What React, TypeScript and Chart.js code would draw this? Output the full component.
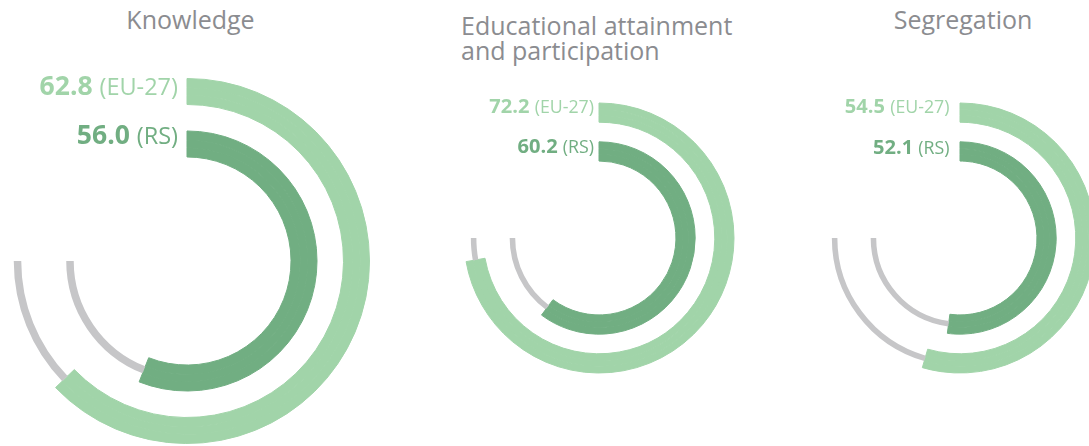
import React, { useEffect, useRef } from "react";
import { Chart, registerables } from "chart.js";

Chart.register(...registerables);

// ---- data ----
const titles = ["Knowledge", "Educational attainment\nand participation", "Segregation"];
const euValues = [62.8, 72.2, 54.5];
const rsValues = [56.0, 60.2, 52.1];
const euTag = "(EU-27)";
const rsTag = "(RS)";
const fullScale = 100; // a full circle
const trackEnd = 75; // grey track runs to three quarters of the circle

// ---- styles ----
const LIGHT = "#a1d4a9";
const DARK = "#71ae82";
const TRACK = "#c6c6c8";
const TITLE = "#8b8c90";
const CLEAR = "rgba(0,0,0,0)";
const FONT = "'Open Sans', 'Noto Sans', sans-serif";

// layout of each gauge (page coordinates)
const geometry = [
  { cx: 187, cy: 261, r: 182.5, scale: 1, euBase: 95.7, rsBase: 145, textRight: 178 },
  { cx: 599, cy: 238, r: 135, scale: 0.757, euBase: 114, rsBase: 154, textRight: 594 },
  { cx: 960, cy: 238, r: 135, scale: 0.757, euBase: 114, rsBase: 155, textRight: 949.5 },
];
const titleLayout = [
  { left: 40.5, width: 300, top: 7.05, align: "center" },
  { left: 461, width: 330, top: 13.05, align: "left" },
  { left: 813, width: 300, top: 7.05, align: "center" },
];

function band(value: number, color: string, withTrack: boolean, weight: number) {
  return withTrack
    ? {
        data: [value, trackEnd - value, fullScale - trackEnd],
        backgroundColor: [color, TRACK, CLEAR],
        borderColor: [color, CLEAR, CLEAR],
        borderWidth: 1,
        weight,
      }
    : {
        data: [value, fullScale - value],
        backgroundColor: [color, CLEAR],
        borderColor: [color, CLEAR],
        borderWidth: 1,
        weight,
      };
}

function Gauge({ idx }: { idx: number }) {
  const ref = useRef<HTMLCanvasElement | null>(null);
  const g = geometry[idx];
  const side = 2 * Math.ceil(g.r + 3);
  useEffect(() => {
    if (!ref.current) return;
    const eu = euValues[idx];
    const rs = rsValues[idx];
    const chart = new Chart(ref.current, {
      type: "doughnut",
      data: {
        labels: ["value", "track", "rest"],
        datasets: [
          band(eu, LIGHT, false, 9.25),
          band(eu, LIGHT, true, 7.5),
          band(eu, LIGHT, false, 9.25),
          { data: [fullScale], backgroundColor: [CLEAR], borderWidth: 0, weight: 26.5 },
          band(rs, DARK, false, 9.25),
          band(rs, DARK, true, 7.5),
          band(rs, DARK, false, 9.25),
        ] as any,
      },
      options: {
        responsive: false,
        animation: false,
        devicePixelRatio: 1,
        events: [],
        radius: g.r,
        cutout: "57%",
        rotation: 0,
        circumference: 360,
        hoverOffset: 0,
        layout: { padding: 0 },
        plugins: {
          legend: { display: false },
          tooltip: { enabled: false },
          title: { display: false },
        },
      } as any,
    });
    return () => chart.destroy();
  }, [idx]);
  return (
    <canvas
      ref={ref}
      width={side}
      height={side}
      style={{ position: "absolute", left: g.cx - side / 2, top: g.cy - side / 2, width: side, height: side }}
    />
  );
}

function ValueLabel({ value, tag, color, right, base, scale }: any) {
  const big = 26.5 * scale;
  const small = 23.5 * scale;
  return (
    <div
      style={{
        position: "absolute",
        right: 1089 - right,
        top: base - 0.888 * big,
        fontSize: big,
        lineHeight: 1,
        color,
        whiteSpace: "nowrap",
        fontFamily: FONT,
      }}
    >
      <span style={{ fontWeight: 700 }}>{value.toFixed(1)}</span>{" "}
      <span style={{ fontWeight: 400, fontSize: small }}>{tag}</span>
    </div>
  );
}

export default function App() {
  return (
    <div
      style={{
        position: "absolute",
        left: 0,
        top: 0,
        width: 1089,
        height: 446,
        overflow: "hidden",
        background: "#ffffff",
        fontFamily: FONT,
      }}
    >
      {titles.map((t, i) => (
        <div
          key={"t" + i}
          style={{
            position: "absolute",
            left: titleLayout[i].left,
            top: titleLayout[i].top,
            width: titleLayout[i].width,
            textAlign: titleLayout[i].align as any,
            fontSize: 25,
            lineHeight: "24.5px",
            color: TITLE,
            whiteSpace: "pre",
          }}
        >
          {t}
        </div>
      ))}
      {geometry.map((g, i) => (
        <React.Fragment key={"g" + i}>
          <Gauge idx={i} />
          <ValueLabel value={euValues[i]} tag={euTag} color={LIGHT} right={g.textRight} base={g.euBase} scale={g.scale} />
          <ValueLabel value={rsValues[i]} tag={rsTag} color={DARK} right={g.textRight} base={g.rsBase} scale={g.scale} />
        </React.Fragment>
      ))}
    </div>
  );
}
